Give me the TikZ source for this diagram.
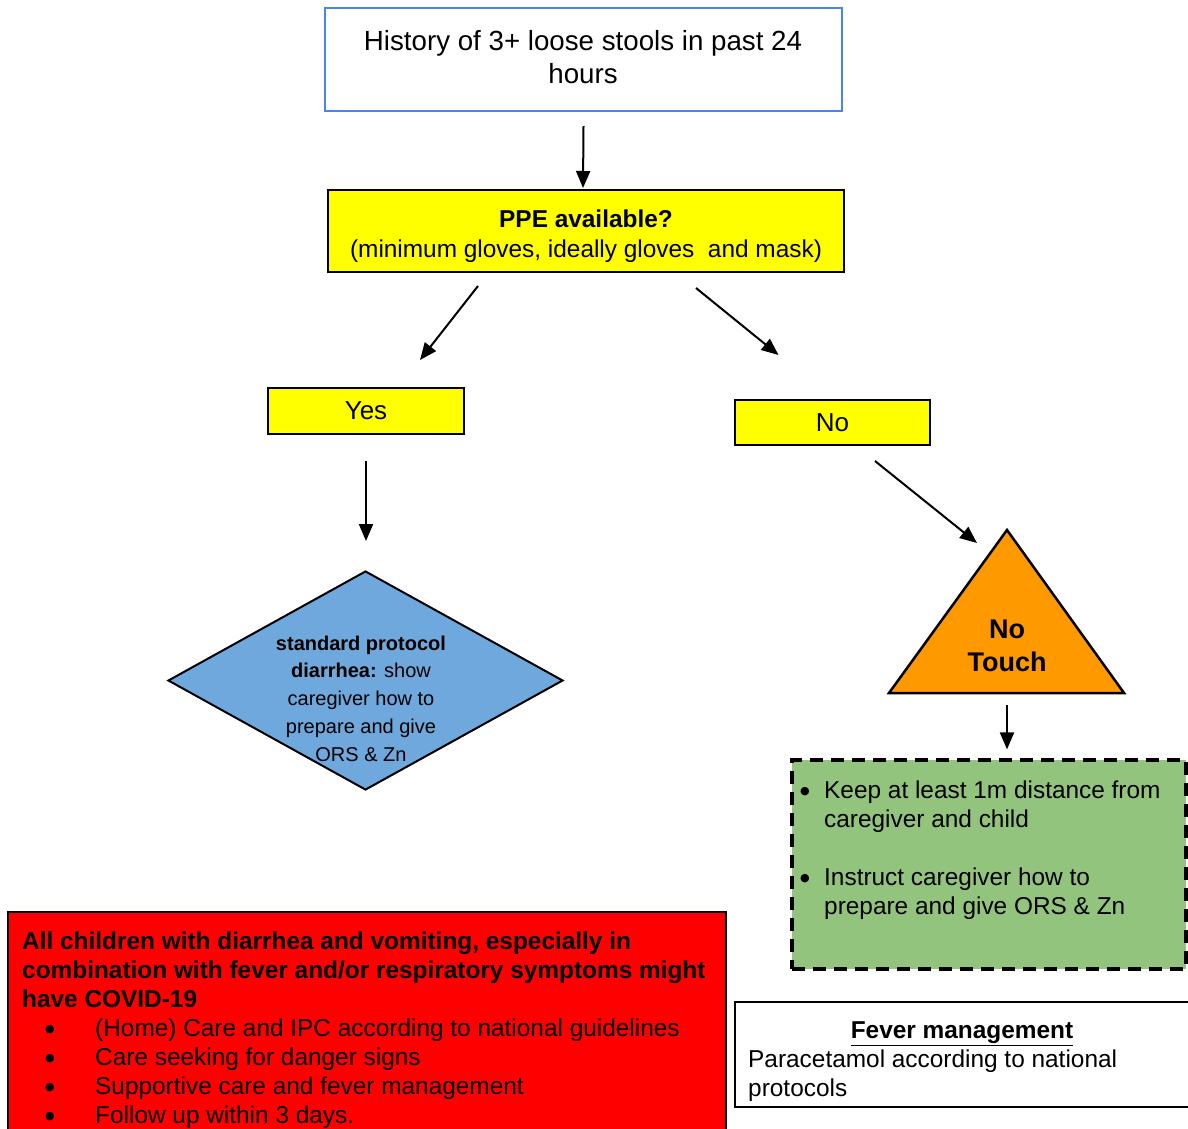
\documentclass[tikz,border=0pt]{standalone}
\usepackage{fontspec}
\setmainfont{Liberation Sans}
\newfontfamily\dejavufont{DejaVu Sans}
\usetikzlibrary{arrows.meta,shapes.geometric,calc}
\definecolor{boxblue}{HTML}{4A86E8}
\definecolor{ppeyellow}{HTML}{FFFF00}
\definecolor{diablue}{HTML}{6FA8DC}
\definecolor{triorange}{HTML}{FF9900}
\definecolor{notouchgreen}{HTML}{93C47D}
\definecolor{alertred}{HTML}{FF0000}
\newcommand{\bigdot}{\raisebox{4pt}{\dejavufont\fontsize{11}{11}\selectfont ●}}
\begin{document}
\begin{tikzpicture}[x=1pt,y=-1pt,
  arr/.style={-{Triangle[length=17pt,width=14pt]}, line width=2pt},
  boxbase/.style={draw=black, line width=2pt, inner sep=0pt, align=center},
  txt/.style={font=\fontsize{24.4}{29}\selectfont},
]
\useasboundingbox (0,0) rectangle (1188,1128);
\clip (0,0) rectangle (1188,1128);

% top box
\node[boxbase, draw=boxblue, minimum width=517pt, minimum height=103pt] (hist) at (583.5,59.5) {};
\node[align=center, inner sep=0pt, font=\fontsize{27.7}{33}\selectfont] (histtext) at (583,57.5)
      {History of 3+ loose stools in past 24\\hours};

% PPE
\node[boxbase, fill=ppeyellow, minimum width=516pt, minimum height=82pt] (ppe) at (586,231) {};
\node[align=center, inner sep=0pt, font=\fontsize{24.4}{30}\selectfont] (ppetext) at (586,236)
      {\textbf{PPE available?}\\(minimum gloves, ideally gloves\ \ and mask)};

% Yes / No
\node[boxbase, fill=ppeyellow, minimum width=196pt, minimum height=46pt,
      font=\fontsize{26}{30}\selectfont] (yes) at (366,411) {Yes};
\node[boxbase, fill=ppeyellow, minimum width=195pt, minimum height=45pt,
      font=\fontsize{26}{30}\selectfont] (no) at (832.5,422.5) {No};

% diamond
\node[diamond, draw=black, line width=2pt, fill=diablue, minimum width=395pt,
      minimum height=219pt, inner sep=0pt] (dia) at (365.5,680.5) {};
\node[align=center, inner sep=0pt, font=\fontsize{20}{27.75}\selectfont] (diatext) at (361,698.5)
      {\textbf{standard protocol}\\\textbf{diarrhea:} show\\caregiver how to\\prepare and give\\ORS \& Zn};

% triangle
\coordinate (apex) at (1007,530);
\coordinate (triR) at (1124,693);
\coordinate (triL) at (889,693);
\draw[line width=2.5pt, fill=triorange, line join=miter] (apex) -- (triR) -- (triL) -- cycle;
\node[align=center, inner sep=0pt, font=\bfseries\fontsize{27}{33}\selectfont] (notouch) at (1007,645.5)
      {No\\Touch};
\coordinate (tribase) at (1007,693);

% green box
\node[draw=black, line width=3.2pt, dash pattern=on 13pt off 8pt, fill=notouchgreen,
      minimum width=394pt, minimum height=209pt, inner sep=0pt] (green) at (989,864.5) {};
\node[txt, anchor=north west, align=left, inner sep=0pt] (greentext) at (800,778.2)
      {\strut\makebox[24pt][l]{\bigdot}Keep at least 1m distance from\\
       \hspace*{24pt}caregiver and child\\
       \strut\\
       \makebox[24pt][l]{\bigdot}Instruct caregiver how to\\
       \hspace*{24pt}prepare and give ORS \& Zn};

% red box
\node[draw=black, line width=1.6pt, fill=alertred, minimum width=718pt, minimum height=240pt,
      inner sep=0pt, anchor=north west] (red) at (7,911) {};
\node[txt, anchor=north west, align=left, inner sep=0pt] (redtext) at (22,929.2)
      {\strut\textbf{All children with diarrhea and vomiting, especially in}\\
       \textbf{combination with fever and/or respiratory symptoms might}\\
       \textbf{have COVID-19}\\
       \hspace*{23pt}\makebox[50pt][l]{\bigdot}(Home) Care and IPC according to national guidelines\\
       \hspace*{23pt}\makebox[50pt][l]{\bigdot}Care seeking for danger signs\\
       \hspace*{23pt}\makebox[50pt][l]{\bigdot}Supportive care and fever management\\
       \hspace*{23pt}\makebox[50pt][l]{\bigdot}Follow up within 3 days.};

% fever box
\node[draw=black, line width=2pt, fill=white, minimum width=456pt, minimum height=105pt,
      inner sep=0pt, anchor=north west] (fever) at (734,1001) {};
\node[txt, inner sep=0pt] (fevertitle) at (962,1034) {\textbf{\underline{Fever management}}};
\node[txt, anchor=north west, align=left, inner sep=0pt] (fevertext) at (748,1047.2)
      {\strut Paracetamol according to national\\protocols};

% connectors
\draw[arr] ($(hist.south)+(0,14)$) -- ($(ppe.north)+(-3,-1)$);
\draw[arr] ($(ppe.south west)+(151,13)$) -- ($(yes.north)+(54,-27)$);
\draw[arr] ($(ppe.south west)+(369,15)$) -- ($(no.north)+(-54,-44)$);
\draw[arr] ($(yes.south)+(0,26)$) -- ($(dia.north)+(0.5,-29)$);
\draw[arr] ($(no.south)+(42.5,15)$) -- ($(apex)+(-30,13)$);
\draw[arr] ($(tribase)+(0,12)$) -- ($(green.north)+(18,-9)$);
\end{tikzpicture}
\end{document}
